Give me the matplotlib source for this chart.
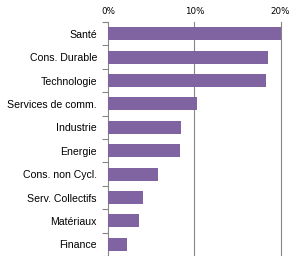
import matplotlib
matplotlib.use('Agg')
import matplotlib.pyplot as plt
import numpy as np

plt.rcParams['font.family'] = ['Liberation Sans', 'DejaVu Sans']

categories = ['Santé', 'Cons. Durable', 'Technologie', 'Services de comm.', 'Industrie',
              'Energie', 'Cons. non Cycl.', 'Serv. Collectifs', 'Matériaux', 'Finance']
weights = [20.1, 18.5, 18.3, 10.3, 8.5, 8.3, 5.8, 4.1, 3.6, 2.2]
xticks = [0, 10, 20]
xtick_labels = ['0%', '10%', '20%']

fig = plt.figure(figsize=(2.93, 2.56), dpi=100)
fig.patch.set_facecolor('white')
ax = fig.add_axes([0.3686, 0.0, 0.592, 0.914])

y = np.arange(len(categories))
bars = ax.barh(y, weights, height=0.55, color='#8064A2', zorder=3)
for b in bars:
    b.set_clip_on(False)

ax.set_xlim(0, 20.1)
ax.set_ylim(len(categories) - 0.5, -0.5)
ax.set_yticks(y)
ax.set_yticklabels(categories, fontsize=7.6)
ax.set_yticks(np.arange(len(categories) + 1) - 0.5, minor=True)
ax.tick_params(axis='y', which='major', length=0, pad=8)
ax.tick_params(axis='y', which='minor', length=4, color='#868686', width=0.8)

ax.xaxis.tick_top()
ax.set_xticks(xticks)
ax.set_xticklabels(xtick_labels, fontsize=6.3, family='DejaVu Sans')
ax.tick_params(axis='x', length=0, pad=4)

# gridlines drawn by hand so the 20% line is not clipped at the edge
for xt in xticks[1:]:
    ax.axvline(xt, color='#868686', linewidth=0.8, zorder=0, clip_on=False)

for s in ['top', 'right', 'bottom']:
    ax.spines[s].set_visible(False)
ax.spines['left'].set_color('#868686')
ax.spines['left'].set_linewidth(0.8)

plt.savefig('out.png', dpi=100, facecolor='white')
